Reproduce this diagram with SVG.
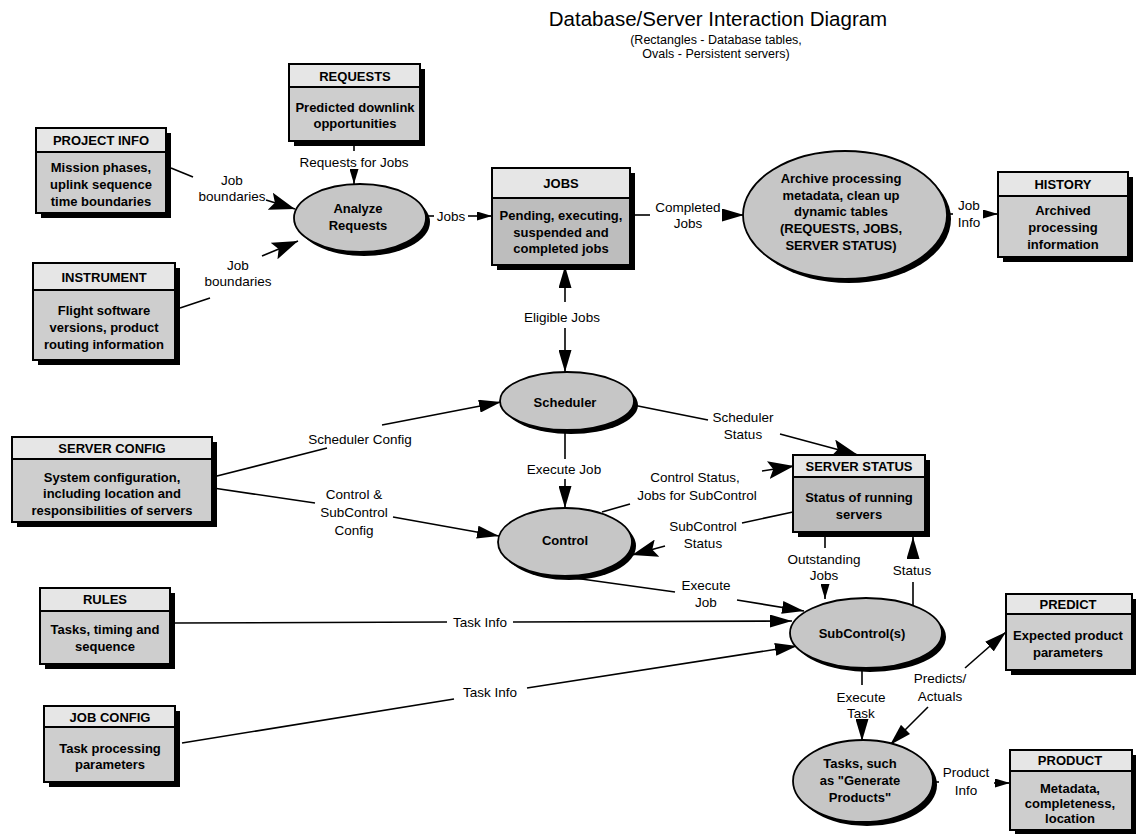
<svg xmlns="http://www.w3.org/2000/svg" width="1136" height="834" viewBox="0 0 1136 834">
<style>
.bg{fill:#fff}
.sh{fill:#000}
.bd{fill:#cecece;stroke:#000;stroke-width:2}
.bd2{fill:#bdbdbd;stroke:#000;stroke-width:2}
.hd{fill:#e6e6e6;stroke:#000;stroke-width:2}
.el{fill:#c6c6c6;stroke:#000;stroke-width:1.8}
text{font-family:"Liberation Sans",Arial,Helvetica,sans-serif;fill:#000;text-anchor:middle}
.t{font-size:13px;font-weight:bold}
.l{font-size:13.5px}
.title{font-size:20.5px}
.sub{font-size:12.5px}
#connectors line{stroke:#000;stroke-width:1.6;fill:none}
</style>
<defs>
<marker id="big" markerUnits="userSpaceOnUse" markerWidth="26" markerHeight="18" refX="26" refY="9" orient="auto"><path d="M0,0 L26,9 L0,18 L5,9 Z" fill="#000"/></marker>
<marker id="med" markerUnits="userSpaceOnUse" markerWidth="22" markerHeight="13" refX="22" refY="6.5" orient="auto"><path d="M0,0 L22,6.5 L0,13 Z" fill="#000"/></marker>
<marker id="sm" markerUnits="userSpaceOnUse" markerWidth="15" markerHeight="9" refX="15" refY="4.5" orient="auto"><path d="M0,0 L15,4.5 L0,9 Z" fill="#000"/></marker>
</defs>
<rect class="bg" x="0" y="0" width="1136" height="834"/>

<g id="title">
<text class="title" x="718" y="26">Database/Server Interaction Diagram</text>
<text class="sub" x="716" y="44">(Rectangles - Database tables,</text>
<text class="sub" x="716" y="58">Ovals - Persistent servers)</text>
</g>

<g id="connectors">
<line x1="354" y1="141" x2="354" y2="151"/>
<line x1="354" y1="170" x2="354" y2="184" marker-end="url(#sm)"/>
<line x1="171" y1="168" x2="193" y2="177"/>
<line x1="266" y1="200" x2="295" y2="209" marker-end="url(#big)"/>
<line x1="180" y1="308" x2="210" y2="298"/>
<line x1="262" y1="256" x2="298" y2="241" marker-end="url(#big)"/>
<line x1="427" y1="216" x2="434" y2="216"/>
<line x1="468" y1="216" x2="492" y2="216" marker-end="url(#sm)"/>
<line x1="635" y1="215" x2="650" y2="215"/>
<line x1="722" y1="215" x2="744" y2="215" marker-end="url(#med)"/>
<line x1="947" y1="214" x2="953" y2="214"/>
<line x1="984" y1="214" x2="998" y2="214" marker-end="url(#sm)"/>
<line x1="565" y1="302" x2="565" y2="266" marker-end="url(#med)"/>
<line x1="565" y1="328" x2="565" y2="372" marker-end="url(#med)"/>
<line x1="213" y1="477" x2="327" y2="448"/>
<line x1="382" y1="425" x2="501" y2="402" marker-end="url(#med)"/>
<line x1="213" y1="488" x2="315" y2="503"/>
<line x1="393" y1="517" x2="499" y2="536" marker-end="url(#med)"/>
<line x1="565" y1="430" x2="565" y2="459"/>
<line x1="565" y1="479" x2="565" y2="508" marker-end="url(#med)"/>
<line x1="633" y1="405" x2="708" y2="420"/>
<line x1="780" y1="434" x2="858" y2="455" marker-end="url(#big)"/>
<line x1="602" y1="512" x2="630" y2="504"/>
<line x1="762" y1="471" x2="794" y2="466" marker-end="url(#big)"/>
<line x1="793" y1="512" x2="742" y2="523"/>
<line x1="665" y1="546" x2="632" y2="555" marker-end="url(#big)"/>
<line x1="567" y1="577" x2="675" y2="592"/>
<line x1="737" y1="600" x2="804" y2="611" marker-end="url(#med)"/>
<line x1="175" y1="623" x2="447" y2="622"/>
<line x1="513" y1="622" x2="792" y2="621" marker-end="url(#med)"/>
<line x1="182" y1="743" x2="454" y2="699"/>
<line x1="527" y1="688" x2="797" y2="646" marker-end="url(#med)"/>
<line x1="825" y1="537" x2="825" y2="548"/>
<line x1="825" y1="585" x2="825" y2="599" marker-end="url(#sm)"/>
<line x1="913" y1="605" x2="913" y2="582"/>
<line x1="913" y1="559" x2="913" y2="537" marker-end="url(#med)"/>
<line x1="862" y1="670" x2="862" y2="685"/>
<line x1="862" y1="722" x2="862" y2="741" marker-end="url(#med)"/>
<line x1="965" y1="668" x2="1006" y2="632" marker-end="url(#med)"/>
<line x1="928" y1="707" x2="890" y2="745" marker-end="url(#med)"/>
<line x1="933" y1="782" x2="939" y2="782"/>
<line x1="994" y1="783" x2="1010" y2="783" marker-end="url(#sm)"/>
</g>

<g id="labels">
<text class="l" x="354" y="167">Requests for Jobs</text>
<text class="l" x="232" y="185">Job</text>
<text class="l" x="232" y="201">boundaries</text>
<text class="l" x="238" y="270">Job</text>
<text class="l" x="238" y="286">boundaries</text>
<text class="l" x="451" y="221">Jobs</text>
<text class="l" x="688" y="212">Completed</text>
<text class="l" x="688" y="228">Jobs</text>
<text class="l" x="969" y="210">Job</text>
<text class="l" x="969" y="227">Info</text>
<text class="l" x="562" y="322">Eligible Jobs</text>
<text class="l" x="360" y="444">Scheduler Config</text>
<text class="l" x="354" y="499">Control &amp;</text>
<text class="l" x="354" y="517">SubControl</text>
<text class="l" x="354" y="535">Config</text>
<text class="l" x="564" y="474">Execute Job</text>
<text class="l" x="743" y="422">Scheduler</text>
<text class="l" x="743" y="439">Status</text>
<text class="l" x="695" y="482">Control Status,</text>
<text class="l" x="697" y="500">Jobs for SubControl</text>
<text class="l" x="703" y="531">SubControl</text>
<text class="l" x="703" y="548">Status</text>
<text class="l" x="706" y="590">Execute</text>
<text class="l" x="706" y="607">Job</text>
<text class="l" x="480" y="627">Task Info</text>
<text class="l" x="490" y="697">Task Info</text>
<text class="l" x="824" y="564">Outstanding</text>
<text class="l" x="824" y="580">Jobs</text>
<text class="l" x="912" y="575">Status</text>
<text class="l" x="861" y="702">Execute</text>
<text class="l" x="861" y="718">Task</text>
<text class="l" x="940" y="683">Predicts/</text>
<text class="l" x="940" y="701">Actuals</text>
<text class="l" x="966" y="777">Product</text>
<text class="l" x="966" y="795">Info</text>
</g>

<g id="requests">
<rect class="sh" x="294" y="69" width="131" height="77"/>
<rect class="bd" x="289" y="64" width="131" height="77"/>
<rect class="hd" x="289" y="64" width="131" height="23"/>
<text class="t" x="355" y="81">REQUESTS</text>
<text class="t" x="355" y="111.5">Predicted downlink</text>
<text class="t" x="355" y="127.5">opportunities</text>
</g>

<g id="project-info">
<rect class="sh" x="41" y="133" width="130" height="85"/>
<rect class="bd" x="36" y="128" width="130" height="85"/>
<rect class="hd" x="36" y="128" width="130" height="24"/>
<text class="t" x="101" y="145">PROJECT INFO</text>
<text class="t" x="101" y="172">Mission phases,</text>
<text class="t" x="101" y="189">uplink sequence</text>
<text class="t" x="101" y="206">time boundaries</text>
</g>

<g id="instrument">
<rect class="sh" x="38" y="268" width="142" height="97"/>
<rect class="bd" x="33" y="263" width="142" height="97"/>
<rect class="hd" x="33" y="263" width="142" height="27"/>
<text class="t" x="104" y="281.5">INSTRUMENT</text>
<text class="t" x="104" y="314.5">Flight software</text>
<text class="t" x="104" y="331.5">versions, product</text>
<text class="t" x="104" y="348.5">routing information</text>
</g>

<g id="jobs">
<rect class="sh" x="497" y="173" width="138" height="97"/>
<rect class="bd2" x="492" y="168" width="138" height="97"/>
<rect class="hd" x="492" y="168" width="138" height="30"/>
<text class="t" x="561" y="188">JOBS</text>
<text class="t" x="561" y="219.5">Pending, executing,</text>
<text class="t" x="561" y="236.5">suspended and</text>
<text class="t" x="561" y="253">completed jobs</text>
</g>

<g id="history">
<rect class="sh" x="1003" y="177" width="130" height="85"/>
<rect class="bd" x="998" y="172" width="130" height="85"/>
<rect class="hd" x="998" y="172" width="130" height="24"/>
<text class="t" x="1063" y="188.5">HISTORY</text>
<text class="t" x="1063" y="214.5">Archived</text>
<text class="t" x="1063" y="231.5">processing</text>
<text class="t" x="1063" y="249">information</text>
</g>

<g id="server-config">
<rect class="sh" x="17" y="442" width="200" height="85"/>
<rect class="bd" x="12" y="437" width="200" height="85"/>
<rect class="hd" x="12" y="437" width="200" height="22"/>
<text class="t" x="112" y="452.5">SERVER CONFIG</text>
<text class="t" x="112" y="481.5">System configuration,</text>
<text class="t" x="112" y="498">including location and</text>
<text class="t" x="112" y="514.5">responsibilities of servers</text>
</g>

<g id="server-status">
<rect class="sh" x="798" y="460" width="132" height="77"/>
<rect class="bd2" x="793" y="455" width="132" height="77"/>
<rect class="hd" x="793" y="455" width="132" height="22"/>
<text class="t" x="859" y="470.5">SERVER STATUS</text>
<text class="t" x="859" y="501.5">Status of running</text>
<text class="t" x="859" y="518.5">servers</text>
</g>

<g id="rules">
<rect class="sh" x="45" y="593" width="130" height="76"/>
<rect class="bd" x="40" y="588" width="130" height="76"/>
<rect class="hd" x="40" y="588" width="130" height="23"/>
<text class="t" x="105" y="604">RULES</text>
<text class="t" x="105" y="633.5">Tasks, timing and</text>
<text class="t" x="105" y="651">sequence</text>
</g>

<g id="job-config">
<rect class="sh" x="49" y="711" width="131" height="76"/>
<rect class="bd" x="44" y="706" width="131" height="76"/>
<rect class="hd" x="44" y="706" width="131" height="21"/>
<text class="t" x="110" y="721.5">JOB CONFIG</text>
<text class="t" x="110" y="752.5">Task processing</text>
<text class="t" x="110" y="769">parameters</text>
</g>

<g id="predict">
<rect class="sh" x="1011" y="599" width="126" height="76"/>
<rect class="bd" x="1006" y="594" width="126" height="76"/>
<rect class="hd" x="1006" y="594" width="126" height="20"/>
<text class="t" x="1068" y="608.5">PREDICT</text>
<text class="t" x="1068" y="639.5">Expected product</text>
<text class="t" x="1068" y="656.5">parameters</text>
</g>

<g id="product">
<rect class="sh" x="1015" y="755" width="122" height="81"/>
<rect class="bd" x="1010" y="750" width="122" height="80"/>
<rect class="hd" x="1010" y="750" width="122" height="21"/>
<text class="t" x="1070" y="765">PRODUCT</text>
<text class="t" x="1070" y="792.5">Metadata,</text>
<text class="t" x="1070" y="807.5">completeness,</text>
<text class="t" x="1070" y="822.5">location</text>
</g>

<g id="analyze-requests">
<ellipse class="sh" cx="364" cy="222" rx="66" ry="34"/>
<ellipse class="el" cx="360" cy="218" rx="66" ry="34"/>
<text class="t" x="358" y="212.5">Analyze</text>
<text class="t" x="358" y="229.5">Requests</text>
</g>

<g id="archive">
<ellipse class="sh" cx="849" cy="219" rx="102" ry="64"/>
<ellipse class="el" cx="845" cy="215" rx="102" ry="64"/>
<text class="t" x="841" y="182.5">Archive processing</text>
<text class="t" x="841" y="199.5">metadata, clean up</text>
<text class="t" x="841" y="216">dynamic tables</text>
<text class="t" x="841" y="232.5">(REQUESTS, JOBS,</text>
<text class="t" x="841" y="249.5">SERVER STATUS)</text>
</g>

<g id="scheduler">
<ellipse class="sh" cx="571" cy="405" rx="67" ry="29"/>
<ellipse class="el" cx="567" cy="401" rx="67" ry="29"/>
<text class="t" x="565" y="406.5">Scheduler</text>
</g>

<g id="control">
<ellipse class="sh" cx="569" cy="546" rx="67" ry="34"/>
<ellipse class="el" cx="565" cy="542" rx="67" ry="34"/>
<text class="t" x="565" y="544.5">Control</text>
</g>

<g id="subcontrol">
<ellipse class="sh" cx="870" cy="637" rx="76" ry="35"/>
<ellipse class="el" cx="866" cy="633" rx="76" ry="35"/>
<text class="t" x="862" y="637.5">SubControl(s)</text>
</g>

<g id="tasks">
<ellipse class="sh" cx="867" cy="785" rx="70" ry="41"/>
<ellipse class="el" cx="863" cy="781" rx="70" ry="41"/>
<text class="t" x="860" y="767.5">Tasks, such</text>
<text class="t" x="860" y="784.5">as "Generate</text>
<text class="t" x="860" y="802">Products"</text>
</g>
</svg>
